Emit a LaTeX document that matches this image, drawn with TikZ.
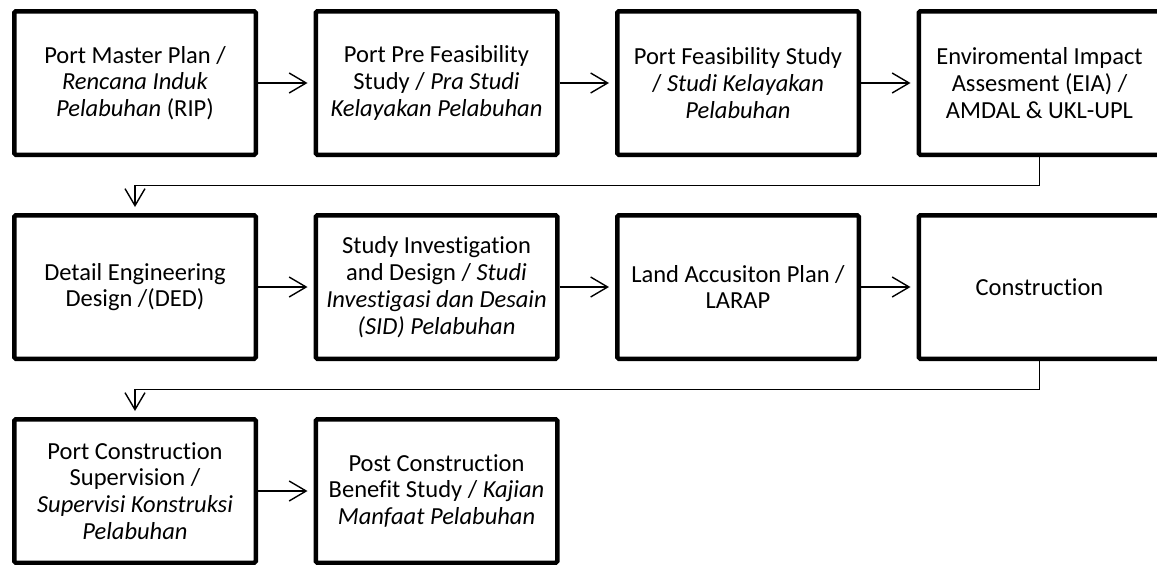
\documentclass[tikz,border=0pt]{standalone}
\usepackage{fontspec}
\setmainfont{Carlito}[Ligatures=NoCommon]
\usetikzlibrary{arrows.meta}
\begin{document}
\begin{tikzpicture}[x=1pt,y=-1pt,
  stage/.style={draw=black, line width=4.5pt, rounded corners=1.5pt,
    minimum width=241.5pt, minimum height=143.5pt, align=center,
    inner sep=0pt, font=\fontsize{24.5pt}{26.8pt}\selectfont},
  flow/.style={line width=1.4pt, shorten >=6pt,
    -{Straight Barb[length=17pt,width=20pt,line width=1.4pt]}}]
\useasboundingbox (0,0) rectangle (1157,565);
% first row
\node[stage] (pmp) at (135,83) {Port Master Plan /\\\textit{Rencana Induk}\\\textit{Pelabuhan} (RIP)};
\node[stage] (pfs) at (436.5,83) {Port Pre Feasibility\\Study / \textit{Pra Studi}\\\textit{Kelayakan Pelabuhan}};
\node[stage] (fs) at (738,83) {Port Feasibility Study\\/ \textit{Studi Kelayakan}\\\textit{Pelabuhan}};
\node[stage] (eia) at (1039.5,83) {Enviromental Impact\\Assesment (EIA) /\\AMDAL \& UKL-UPL};
% second row
\node[stage] (ded) at (135,287) {Detail Engineering\\Design /(DED)};
\node[stage] (sid) at (436.5,287) {Study Investigation\\and Design / \textit{Studi}\\\textit{Investigasi dan Desain}\\\textit{(SID) Pelabuhan}};
\node[stage] (larap) at (738,287) {Land Accusiton Plan /\\LARAP};
\node[stage] (cons) at (1039.5,287) {Construction};
% third row
\node[stage] (sup) at (135,491) {Port Construction\\Supervision /\\\textit{Supervisi Konstruksi}\\\textit{Pelabuhan}};
\node[stage] (ben) at (436.5,491) {Post Construction\\Benefit Study / \textit{Kajian}\\\textit{Manfaat Pelabuhan}};
% connectors
\draw[flow] (pmp) -- (pfs);
\draw[flow] (pfs) -- (fs);
\draw[flow] (fs) -- (eia);
\draw[flow] (eia.south) -- ++(0,28.5) -| (ded.north);
\draw[flow] (ded) -- (sid);
\draw[flow] (sid) -- (larap);
\draw[flow] (larap) -- (cons);
\draw[flow] (cons.south) -- ++(0,28.5) -| (sup.north);
\draw[flow] (sup) -- (ben);
\end{tikzpicture}
\end{document}
